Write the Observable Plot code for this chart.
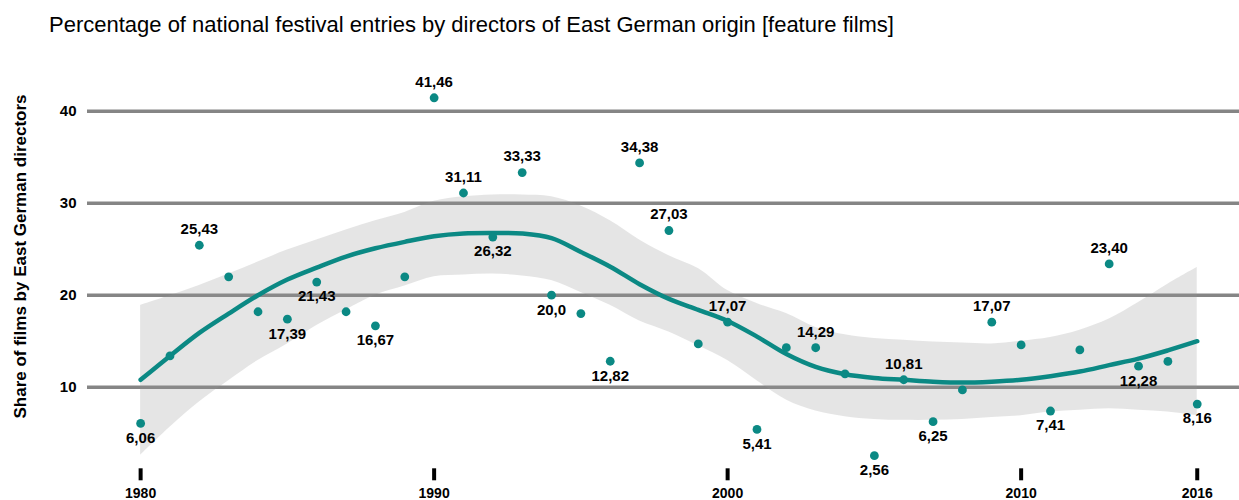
<!DOCTYPE html>
<html>
<head>
<meta charset="utf-8">
<script src="https://cdn.jsdelivr.net/npm/d3@7"></script>
<script src="https://cdn.jsdelivr.net/npm/@observablehq/plot@0.6"></script>
<style>
  html, body { margin: 0; padding: 0; background: #fff; }
  #wrap { width: 1239px; height: 500px; position: relative; overflow: hidden; }
  #title { height: 60px; box-sizing: border-box; padding: 14px 0 0 49px; font-family: "Liberation Sans", Arial, sans-serif; font-size: 22px; line-height: 22px; color: #000; white-space: nowrap; }
  #chart svg { display: block; }
</style>
</head>
<body>
<div id="wrap">
  <div id="title">Percentage of national festival entries by directors of East German origin [feature films]</div>
  <div id="chart"></div>
</div>
<script>
// ---- data ----
const years = [1980,1981,1982,1983,1984,1985,1986,1987,1988,1989,1990,1991,1992,1993,1994,1995,1996,1997,1998,1999,2000,2001,2002,2003,2004,2005,2006,2007,2008,2009,2010,2011,2012,2013,2014,2015,2016];
const shares = [6.06,13.4,25.43,22.0,18.2,17.39,21.43,18.2,16.67,22.0,41.46,31.11,26.32,33.33,20.0,18.0,12.82,34.38,27.03,14.7,17.07,5.41,14.3,14.29,11.45,2.56,10.81,6.25,9.7,17.07,14.6,7.41,14.05,23.40,12.28,12.8,8.16];
const pointLabels = ["6,06",null,"25,43",null,null,"17,39","21,43",null,"16,67",null,"41,46","31,11","26,32","33,33","20,0",null,"12,82","34,38","27,03",null,"17,07","5,41",null,"14,29",null,"2,56","10,81","6,25",null,"17,07",null,"7,41",null,"23,40","12,28",null,"8,16"];
const labelsAbove = [1982,1990,1991,1993,1997,1998,2000,2003,2006,2009,2013];
// smoothed trend (fit) and its confidence band
const fit   = [10.8,13.4,15.9,18.0,20.0,21.7,23.0,24.2,25.1,25.8,26.4,26.7,26.75,26.7,26.2,24.7,23.1,21.2,19.6,18.4,17.2,15.5,13.6,12.2,11.4,11.0,10.8,10.6,10.5,10.6,10.8,11.2,11.7,12.4,13.1,14.0,15.0];
const lower = [2.6,5.65,8.4,10.7,12.9,14.7,16.7,18.4,20.0,21.0,22.0,22.2,22.3,22.1,21.6,20.3,18.9,17.2,16.0,14.5,12.9,10.7,8.6,7.4,6.8,6.5,6.4,6.4,6.5,6.7,6.9,7.3,7.5,7.65,7.5,7.3,6.9];
const upper = [18.9,19.95,21.05,22.3,23.6,24.9,26.0,27.1,28.1,29.0,30.2,30.7,30.9,30.9,30.7,29.7,28.1,26.0,24.3,22.9,20.5,19.1,18.0,16.5,15.7,15.3,15.1,14.9,14.8,14.7,15.0,15.4,16.2,17.4,19.2,21.2,23.0];
const yTicks = [10,20,30,40];
const xTicks = [1980,1990,2000,2010,2016];
const yLabel = "Share of films by East German directors";

const teal = "#0b8984";
const rows = years.map((yr,i)=>({year:yr, share:shares[i], label:pointLabels[i]}));
const fitRows = years.map((yr,i)=>({year:yr, fit:fit[i], lo:lower[i], hi:upper[i]}));
const labelled = rows.filter(d => d.label);
const above = labelled.filter(d => labelsAbove.includes(d.year));
const below = labelled.filter(d => !labelsAbove.includes(d.year));

const chart = Plot.plot({
  width: 1239,
  height: 440,
  marginLeft: 87,
  marginRight: 0,
  marginTop: 4.7,
  marginBottom: 31.7,
  style: {fontFamily: "'Liberation Sans', Arial, sans-serif", background: "#fff", color: "#000", overflow: "visible"},
  x: {domain: [1978.19, 2017.44]},
  y: {domain: [1.13, 45]},
  marks: [
    Plot.ruleY(yTicks, {stroke: "#858585", strokeWidth: 3.5}),
    Plot.areaY(fitRows, {x: "year", y1: "lo", y2: "hi", fill: "#999", fillOpacity: 0.25, curve: "catmull-rom"}),
    Plot.lineY(fitRows, {x: "year", y: "fit", stroke: teal, strokeWidth: 4.5, curve: "catmull-rom"}),
    Plot.dot(rows, {x: "year", y: "share", r: 4.4, fill: teal, stroke: null}),
    Plot.text(above, {x: "year", y: "share", text: "label", dy: -16, fontSize: 15, fontWeight: "bold", fill: "#000"}),
    Plot.text(below, {x: "year", y: "share", text: "label", dy: 14.5, fontSize: 15, fontWeight: "bold", fill: "#000"}),
    Plot.axisX(xTicks, {tickSize: 12, tickPadding: 7.7, strokeWidth: 4, stroke: "#000", fontSize: 14, fontWeight: "bold", tickFormat: d => String(d), label: null}),
    Plot.axisY(yTicks, {tickSize: 0, tickPadding: 11, fontSize: 15, fontWeight: "bold", label: null}),
    Plot.text([yLabel], {frameAnchor: "left", textAnchor: "middle", rotate: -90, dx: -67, dy: -10.5, fontSize: 17, fontWeight: "bold", fill: "#000"})
  ]
});
document.getElementById("chart").appendChild(chart);
</script>
</body>
</html>
